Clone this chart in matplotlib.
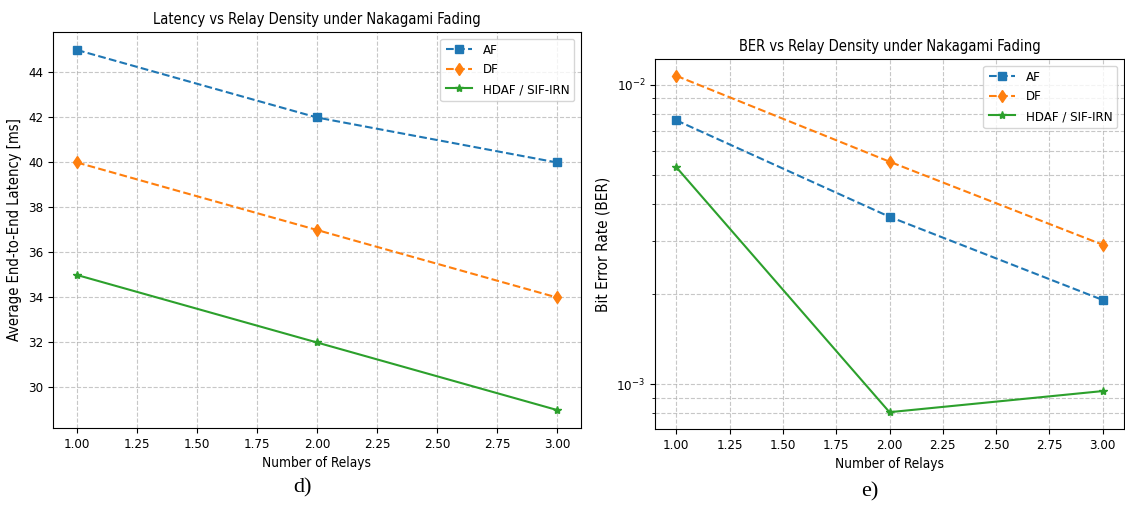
import matplotlib
matplotlib.use("Agg")
import matplotlib.pyplot as plt

plt.rcParams['font.family'] = ['DejaVu Sans']
plt.rcParams['font.stretch'] = 'condensed'

# Relay counts and results under Nakagami fading
relays = [1, 2, 3]
schemes = ["AF", "DF", "HDAF / SIF-IRN"]
latency_af = [45, 42, 40]
latency_df = [40, 37, 34]
latency_hdaf = [35, 32, 29]
ber_af = [0.0076, 0.00362, 0.00191]
ber_df = [0.0107, 0.00553, 0.00292]
ber_hdaf = [0.0053, 0.000806, 0.000948]
xticks = [1.0, 1.25, 1.5, 1.75, 2.0, 2.25, 2.5, 2.75, 3.0]

styles = [
    dict(color='#1f77b4', marker='s', linestyle='--'),
    dict(color='#ff7f0e', marker='d', linestyle='--'),
    dict(color='#2ca02c', marker='*', linestyle='-'),
]

fig = plt.figure(figsize=(11.25, 5.05), dpi=100)
W, H = 1125, 505

# Left panel: latency
ax1 = fig.add_axes([53/W, 1 - 428/H, (581-53)/W, (428-32)/H])
for y, name, st in zip([latency_af, latency_df, latency_hdaf], schemes, styles):
    ax1.plot(relays, y, label=name, markersize=6, linewidth=1.5, **st)
ax1.set_title("Latency vs Relay Density under Nakagami Fading", fontsize=10.5)
ax1.set_xlabel("Number of Relays", fontsize=9.8)
ax1.set_ylabel("Average End-to-End Latency [ms]", fontsize=10.5)
ax1.grid(True, linestyle='--', alpha=0.7)
ax1.legend(loc='upper right', fontsize=9.5)
ax1.tick_params(labelsize=9.5)
ax1.set_xticks(xticks)
ax1.set_xticklabels(["%.2f" % v for v in xticks])

# Right panel: BER on log scale
ax2 = fig.add_axes([655/W, 1 - 429/H, (1124-655)/W, (429-59)/H])
for y, name, st in zip([ber_af, ber_df, ber_hdaf], schemes, styles):
    ax2.semilogy(relays, y, label=name, markersize=6, linewidth=1.5, **st)
ax2.set_title("BER vs Relay Density under Nakagami Fading", fontsize=10.5)
ax2.set_xlabel("Number of Relays", fontsize=9.8)
ax2.set_ylabel("Bit Error Rate (BER)", fontsize=11)
ax2.grid(True, which='both', linestyle='--', alpha=0.7)
ax2.legend(loc='upper right', fontsize=9.5)
ax2.tick_params(which='both', labelsize=9.5)
ax2.set_xticks(xticks)
ax2.set_xticklabels(["%.2f" % v for v in xticks])

fig.text(302/W, 1 - 488/H, "d)", family='Liberation Serif', fontsize=16, ha='center', va='center')
fig.text(870/W, 1 - 492/H, "e)", family='Liberation Serif', fontsize=16, ha='center', va='center')

fig.savefig("out.png", dpi=100)
